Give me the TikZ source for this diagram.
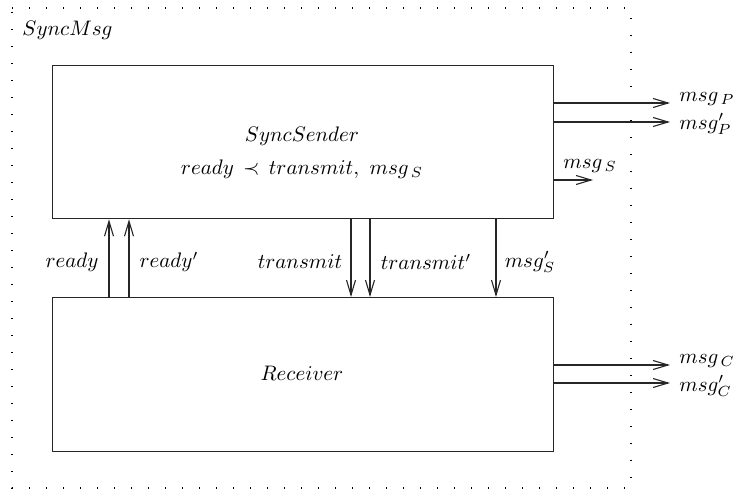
\documentclass[tikz,border=0pt]{standalone}
\usetikzlibrary{arrows.meta}
\begin{document}
\begin{tikzpicture}[x=1pt,y=-1pt,
  box/.style={draw=black!85,line width=1.3pt,minimum width=501pt,minimum height=153pt,inner sep=0pt,anchor=north west},
  arr/.style={line width=1.1pt,draw=black!85,-{Straight Barb[length=15pt,width=9pt,line width=1.1pt]}},
  lbl/.style={font=\normalsize,inner sep=0.5pt,scale=2.1},
  rlbl/.style={lbl,inner sep=0pt,anchor=west},
  frame/.style={line width=1.4pt,dash pattern=on 1.4pt off 15.6pt}]
\useasboundingbox (0,0) rectangle (735,490);
\draw[frame] (12,8) -- (631,8) -- (631,488) -- (12,488) -- cycle;
\node[lbl,anchor=west] (title) at (21,30) {$SyncMsg$};
\node[box] (sender) at (52,65) {};
\node[box,minimum height=154pt] (receiver) at (52,297) {};
\node[lbl] (sname) at (302,136) {$SyncSender$};
\node[lbl] (scons) at (302,169) {$ready \mathrel{\,\prec\,} transmit,\ msg_{\,S}$};
\node[lbl] (rname) at (302,373) {$Receiver$};
% vertical arrows
\coordinate (xr) at (109,0);
\coordinate (xrp) at (129,0);
\coordinate (xt) at (351,0);
\coordinate (xtp) at (370,0);
\coordinate (xm) at (496,0);
\draw[arr] (receiver.north -| xr) -- (sender.south -| xr);
\draw[arr] (receiver.north -| xrp) -- (sender.south -| xrp);
\draw[arr] (sender.south -| xt) -- (receiver.north -| xt);
\draw[arr] (sender.south -| xtp) -- (receiver.north -| xtp);
\draw[arr] (sender.south -| xm) -- (receiver.north -| xm);
\node[lbl] (lready) at (72,262) {$ready$};
\node[lbl] (lreadyp) at (169,262) {$ready'$};
\node[lbl] (ltrans) at (300,262) {$transmit$};
\node[lbl] (ltransp) at (426,262) {$transmit'$};
\node[lbl] (lmsgs) at (530,262) {$msg'_S$};
% right arrows
\node[rlbl] (mp) at (679,99) {$msg_{\,P}$};
\node[rlbl] (mpp) at (679,124) {$msg'_P$};
\node[rlbl] (mc) at (679,361) {$msg_{\,C}$};
\node[rlbl] (mcp) at (679,386) {$msg'_C$};
\coordinate (ep) at (670,103);
\coordinate (epp) at (670,122);
\coordinate (ec) at (670,365);
\coordinate (ecp) at (670,383);
\coordinate (es) at (593,180);
\draw[arr] (sender.east |- ep) -- (ep);
\draw[arr] (sender.east |- epp) -- (epp);
\draw[arr] (sender.east |- es) -- (es);
\draw[arr] (receiver.east |- ec) -- (ec);
\draw[arr] (receiver.east |- ecp) -- (ecp);
\node[lbl] (lms) at (590,166) {$msg_{\,S}$};
\end{tikzpicture}
\end{document}
